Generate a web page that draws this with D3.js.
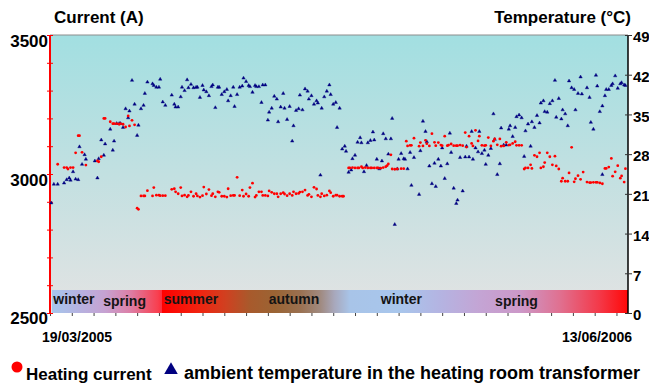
<!DOCTYPE html>
<html>
<head>
<meta charset="utf-8">
<script src="https://cdn.jsdelivr.net/npm/d3@7"></script>
<style>
  body { margin: 0; background: #fff; }
  svg { display: block; font-family: "Liberation Sans", Arial, sans-serif; font-weight: bold; }
</style>
</head>
<body>
<svg id="chart" width="649" height="385"></svg>
<script>
// days since 19/03/2005, heating current (A)
const currentData = [
  [6,3035],[11,3023],[13,3023],[14,3018],[16,3023],[18,3023],[20,3076],[22,3138],[23,3138],[25,3078],[28,3032],
  [37,3047],[38,3044],[40,3062],[42,3200],[43,3200],[47,3188],[49,3181],[50,3181],[52,3181],[54,3179],[55,3181],
  [57,3179],[59,3169],[61,3209],[62,3173],[64,3193],[66,3177],[68,2877],[69,2873],[71,2921],[73,2921],[74,2921],
  [76,2940],[80,2921],[81,2951],[83,2924],[85,2924],[86,2922],[88,2922],[90,2922],[95,2945],[97,2947],[98,2936],
  [100,2929],[102,2951],[103,2921],[105,2924],[107,2918],[108,2923],[110,2936],[112,2920],[114,2929],[115,2921],
  [117,2917],[119,2922],[120,2953],[122,2928],[124,2944],[126,2922],[127,2929],[129,2918],[131,2936],[132,2934],
  [134,2920],[136,2920],[138,2917],[139,2947],[141,2922],[143,2923],[144,2923],[146,2988],[148,2922],[150,2942],
  [151,2920],[153,2928],[155,2920],[156,2951],[158,2967],[160,2917],[161,2923],[163,2936],[165,2936],[166,2923],
  [168,2923],[170,2921],[171,2939],[173,2934],[175,2929],[177,2929],[178,2918],[180,2929],[182,2933],[183,2928],
  [185,2922],[187,2929],[189,2923],[190,2936],[192,2929],[194,2930],[195,2935],[197,2936],[199,2942],[201,2923],
  [202,2927],[204,2918],[206,2952],[208,2946],[209,2923],[211,2918],[212,2929],[214,2921],[216,2924],[218,2939],
  [219,2933],[221,2920],[223,2924],[224,2924],[226,2920],[228,2920],[229,2920],
  [233,3022],[234,3022],[236,3023],[238,3022],[240,3022],[241,3022],[243,3026],[244,3022],[246,3023],[248,3022],
  [250,3022],[251,3022],[253,3022],[255,3022],[256,3022],[258,3021],[260,3023],[262,3026],[263,3030],[264,3036],
  [266,3069],[267,3018],[269,3017],[271,3018],[274,3019],[276,3019],
  [278,3118],[279,3101],[281,3103],[282,3103],[284,3129],[288,3100],[289,3113],[291,3101],[293,3121],[294,3109],
  [296,3101],[298,3145],[300,3114],[301,3102],[303,3113],[305,3104],[306,3102],[308,3136],[310,3102],[311,3104],
  [313,3108],[315,3102],[317,3102],[318,3102],[320,3104],[322,3102],[324,3149],[325,3097],[327,3136],[329,3110],
  [330,3101],[332,3157],[334,3119],[335,3136],[337,3103],[339,3102],[340,3103],[342,3131],[344,3101],[346,3118],
  [347,3126],[349,3105],[351,3126],[352,3100],[354,3101],[356,3114],[358,3104],[359,3105],[361,3110],[363,3116],
  [364,3103],[366,3103],[368,3103],
  [370,3018],[371,3022],[373,3022],[375,3033],[376,3020],[378,3067],[380,3062],[382,3076],[383,3022],[385,3026],
  [386,3041],[388,3076],[390,3062],[392,3033],[394,3064],[395,3029],[397,3018],[399,2974],[400,2985],[402,2974],
  [404,2974],[405,3004],[407,3096],[409,2972],[410,2983],[412,2994],[414,2981],[416,3007],[419,2971],[421,2969],
  [422,2969],[424,2970],[426,2970],[427,2970],[429,2968],[431,2965],[433,3020],[434,3020],[436,3025],[438,3056],
  [439,2992],[441,3008],[443,3030],[445,2985],[446,2993],[448,2971],[449,3019]
];

// days since 19/03/2005, ambient temperature (°C)
const tempData = [
  [1,19.4],[3,22.7],[6,22.7],[11,22.9],[13,23.5],[15,23.8],[16,23.4],[18,24.9],[20,23.6],[22,23.5],[23,29.3],
  [25,26.2],[27,27.9],[28,27.1],[35,26.8],[37,23.8],[38,27.2],[40,30.5],[42,27.8],[43,29.8],[47,32.4],[49,28.7],
  [50,30.3],[52,33.4],[54,33.4],[55,33.4],[57,32.7],[59,36.0],[61,34.4],[62,35.6],[64,41.0],[66,36.8],[68,31.3],
  [69,33.1],[71,36.0],[73,36.6],[74,38.7],[76,40.7],[80,40.4],[81,40.1],[83,39.8],[85,39.8],[86,41.2],[88,37.2],
  [90,36.6],[95,38.4],[97,36.8],[98,36.3],[100,36.3],[102,38.1],[103,39.8],[105,39.2],[107,41.1],[108,39.7],
  [110,40.3],[112,39.7],[114,39.8],[115,39.8],[117,38.0],[119,40.1],[120,39.3],[122,39.0],[124,38.3],[126,39.9],
  [127,40.2],[129,36.2],[131,39.8],[132,39.8],[134,38.5],[136,39.0],[138,39.4],[139,37.4],[141,38.3],[143,39.8],
  [144,36.4],[146,38.5],[148,39.8],[150,40.0],[151,41.4],[153,40.8],[155,40.1],[156,39.9],[158,38.9],[160,40.1],
  [161,39.9],[163,39.9],[165,37.1],[166,40.2],[168,40.2],[170,34.0],[171,35.4],[173,36.1],[175,38.2],[177,37.7],
  [178,33.7],[180,36.3],[182,38.7],[183,36.1],[185,34.1],[187,36.4],[189,30.3],[190,33.0],[192,35.7],[194,36.0],
  [195,38.4],[197,35.8],[199,39.5],[201,39.1],[202,37.7],[204,38.3],[206,36.8],[208,37.4],[209,37.0],[211,24.3],
  [212,36.1],[214,38.1],[216,39.1],[218,40.2],[219,38.5],[221,36.8],[223,37.1],[224,32.7],[226,36.1],[228,28.9],
  [230,29.4],[231,28.5],[233,24.8],[235,25.2],[236,27.2],[238,27.8],[240,30.1],[242,30.9],[243,30.0],[245,24.9],
  [247,26.0],[248,30.0],[250,30.4],[252,31.9],[253,30.5],[255,27.1],[257,25.4],[259,26.8],[260,31.6],[262,30.7],
  [264,28.0],[266,30.7],[267,34.3],[269,15.6],[271,25.4],[272,27.1],[274,28.1],[276,27.2],[277,27.1],[279,25.4],
  [281,28.3],[282,22.5],[284,27.4],[288,20.9],[289,28.6],[291,33.8],[293,32.0],[294,30.2],[296,25.9],[298,22.8],
  [300,26.4],[301,22.3],[303,27.1],[305,25.9],[306,29.1],[308,23.7],[310,26.3],[312,31.7],[313,28.3],[315,22.0],
  [317,19.3],[318,19.9],[320,27.4],[322,21.5],[324,27.5],[325,29.4],[327,27.5],[329,32.0],[330,27.1],[332,29.1],
  [334,28.4],[335,32.0],[337,28.1],[339,28.7],[340,26.2],[342,27.8],[344,29.0],[346,35.1],[347,30.6],[349,24.4],
  [351,26.3],[352,32.6],[354,29.6],[356,29.6],[358,32.4],[359,33.0],[361,31.1],[363,32.7],[364,34.6],[366,34.9],
  [368,34.4],[370,27.6],[371,32.1],[373,33.3],[375,29.4],[376,33.7],[378,32.7],[380,34.8],[382,33.5],[383,37.0],
  [385,37.4],[386,35.5],[388,35.4],[390,36.9],[392,37.4],[394,41.0],[395,34.5],[397,37.8],[399,34.2],[400,35.8],
  [402,35.1],[404,33.0],[405,40.9],[407,39.7],[409,39.4],[410,35.8],[412,38.7],[414,41.6],[415,38.6],[419,39.7],
  [421,38.0],[422,33.6],[424,32.4],[426,41.9],[427,40.0],[429,35.5],[431,24.4],[431,36.5],[433,38.3],[434,39.4],
  [436,39.4],[438,40.1],[439,40.4],[441,41.8],[443,39.6],[445,40.4],[446,40.6],[448,40.2],[449,40.1]
];

const currentTicks = [2500, 2600, 2700, 2800, 2900, 3000, 3100, 3200, 3300, 3400, 3500];
const currentLabels = [2500, 3000, 3500];
const tempTicks = [0, 7, 14, 21, 28, 35, 42, 49];
const dateLabels = ['19/03/2005', '13/06/2006'];
const totalDays = 451;

// season band: label, centre day
const seasons = [
  ['winter', 18.7], ['spring', 58.2], ['summer', 110], ['autumn', 190.4],
  ['winter', 274.2], ['spring', 364]
];
// band colour stops: day, colour
const seasonStops = [
  [1.6, '#a6c6ec'], [23, '#b6b2e0'], [43, '#c6a2d2'], [62, '#dc80a8'], [84, '#f84050'],
  [87, '#fc3040'], [87.1, '#ff0000'], [117, '#f02410'], [137, '#d04020'], [156, '#a85a2c'],
  [176, '#9a6434'], [195, '#9a7050'], [211, '#a08a80'], [222, '#a8a8bc'], [234, '#a8c4e8'],
  [273, '#a8c6ec'], [304, '#b4b4e2'], [336, '#c4a4d4'], [367, '#cc98c8'], [398, '#e07090'],
  [429, '#f43848'], [451, '#ff0808']
];

const plotL = 50, plotR = 628, plotT = 35, plotB = 313;

const x = d3.scaleLinear().domain([0, totalDays]).range([plotL, plotR]);
const yI = d3.scaleLinear().domain([2500, 3500]).range([plotB, plotT]);
const yT = d3.scaleLinear().domain([0, 49]).range([plotB, plotT]);

const svg = d3.select('#chart');
const defs = svg.append('defs');

const bg = defs.append('linearGradient').attr('id', 'bg')
  .attr('x1', 0).attr('y1', 0).attr('x2', 0).attr('y2', 1);
bg.append('stop').attr('offset', 0).attr('stop-color', '#a2dfe1');
bg.append('stop').attr('offset', 0.5).attr('stop-color', '#c2e0e1');
bg.append('stop').attr('offset', 1).attr('stop-color', '#e3e3e3');

const band = defs.append('linearGradient').attr('id', 'band')
  .attr('gradientUnits', 'userSpaceOnUse')
  .attr('x1', x(0)).attr('x2', x(totalDays)).attr('y1', 0).attr('y2', 0);
band.selectAll('stop').data(seasonStops).enter().append('stop')
  .attr('offset', d => d[0] / totalDays)
  .attr('stop-color', d => d[1]);

svg.append('rect')
  .attr('x', plotL).attr('y', plotT)
  .attr('width', plotR - plotL).attr('height', plotB - plotT)
  .attr('fill', 'url(#bg)');

svg.append('rect')
  .attr('x', plotL + 2).attr('y', 290)
  .attr('width', plotR - plotL - 2).attr('height', plotB - 290)
  .attr('fill', 'url(#band)');

svg.selectAll('.season').data(seasons).enter().append('text')
  .attr('class', 'season')
  .attr('x', d => x(d[1]))
  .attr('y', d => (d[0] === 'spring' ? 306 : 304))
  .attr('text-anchor', 'middle')
  .attr('font-size', 14)
  .attr('fill', '#141414')
  .text(d => d[0]);

// top border
svg.append('line')
  .attr('x1', plotL).attr('x2', plotR).attr('y1', plotT).attr('y2', plotT)
  .attr('stroke', '#8c8c8c').attr('stroke-width', 1);

// bottom ticks
const xAxis = svg.append('g')
  .attr('transform', `translate(0,${plotB})`)
  .call(d3.axisBottom(x).tickValues(d3.range(0, totalDays, 17)).tickSize(3).tickFormat(''));
xAxis.select('.domain').remove();
xAxis.selectAll('.tick line').attr('stroke', '#444');

// left axis (current)
const yAxisL = svg.append('g')
  .attr('transform', `translate(${plotL},0)`)
  .call(d3.axisLeft(yI).tickValues(currentTicks).tickSize(3)
    .tickFormat(d => (currentLabels.includes(d) ? d : '')));
yAxisL.select('.domain').attr('stroke', '#ff0000').attr('stroke-width', 2).attr('d', `M0,${plotT}V${plotB}`);
yAxisL.selectAll('.tick line').attr('stroke', '#ff0000').attr('x1', 3).attr('x2', -3);
yAxisL.selectAll('.tick text')
  .attr('x', -2)
  .attr('dy', d => (d === 2500 ? '0.6em' : '0.7em'))
  .attr('font-size', 17).attr('font-family', null).attr('fill', '#000');

// right axis (temperature)
const yAxisR = svg.append('g')
  .attr('transform', `translate(${plotR},0)`)
  .call(d3.axisRight(yT).tickValues(tempTicks).tickSize(4));
yAxisR.select('.domain').attr('stroke', '#000').attr('stroke-width', 1.5).attr('d', `M0,${plotT}V${plotB}`);
yAxisR.selectAll('.tick line').attr('stroke', '#333').attr('x1', -3).attr('x2', 4);
yAxisR.selectAll('.tick text')
  .attr('x', 5).attr('dy', '0.45em')
  .attr('font-size', 15).attr('font-family', null).attr('fill', '#000');

// points
const tri = d3.symbol().type(d3.symbolTriangle).size(5);
svg.append('g').selectAll('path').data(tempData).enter().append('path')
  .attr('d', tri)
  .attr('transform', d => `translate(${x(d[0])},${yT(d[1])})`)
  .attr('fill', '#000080')
  .attr('stroke', '#000080').attr('stroke-width', 0.4);

svg.append('g').selectAll('circle').data(currentData).enter().append('circle')
  .attr('cx', d => x(d[0]))
  .attr('cy', d => yI(d[1]))
  .attr('r', 1.4)
  .attr('fill', '#ff0000');

// titles
svg.append('text').attr('x', 54).attr('y', 23).attr('font-size', 17).text('Current (A)');
svg.append('text').attr('x', 631).attr('y', 23).attr('font-size', 17)
  .attr('text-anchor', 'end').text('Temperature (°C)');

// date labels
svg.append('text').attr('x', 42).attr('y', 342).attr('font-size', 14).text(dateLabels[0]);
svg.append('text').attr('x', 632).attr('y', 342).attr('font-size', 14)
  .attr('text-anchor', 'end').text(dateLabels[1]);

// legend
svg.append('circle').attr('cx', 17).attr('cy', 367).attr('r', 5.5).attr('fill', '#ff0000');
svg.append('text').attr('x', 26).attr('y', 380).attr('font-size', 17).text('Heating current');
svg.append('path')
  .attr('d', d3.symbol().type(d3.symbolTriangle).size(80))
  .attr('transform', 'translate(171,370)')
  .attr('fill', '#000080');
svg.append('text').attr('x', 184).attr('y', 379).attr('font-size', 18)
  .text('ambient temperature in the heating room transformer');
</script>
</body>
</html>
